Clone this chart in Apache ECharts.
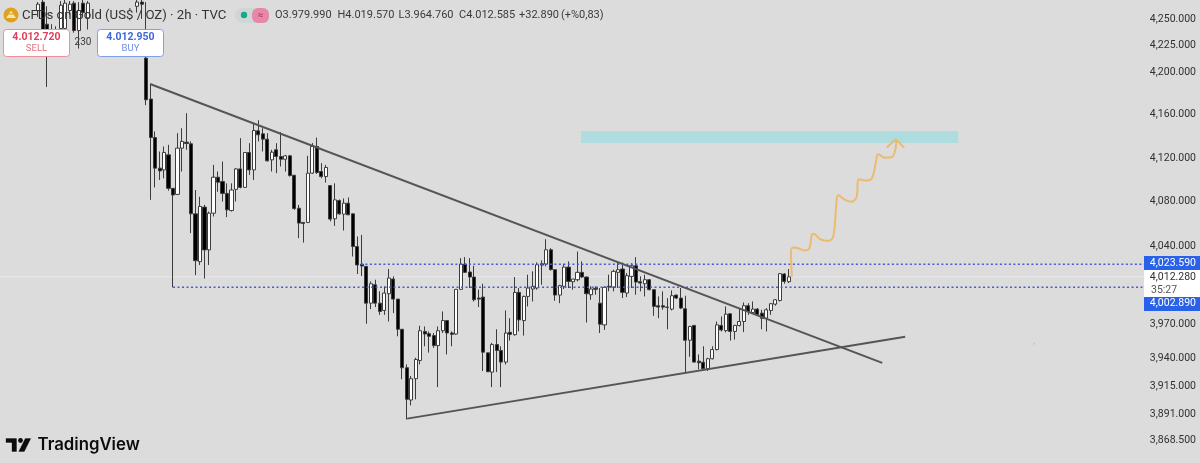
<!DOCTYPE html>
<html>
<head>
<meta charset="utf-8">
<style>html,body{margin:0;padding:0;background:#dcdcdc}#chart{width:1200px;height:463px}</style>
<script src="https://cdn.jsdelivr.net/npm/echarts@6/dist/echarts.min.js"></script>
</head>
<body>
<div id="chart"></div>
<script>
// XAU/USD 2h bars; null marks a slot with no bar on screen
const opens = [
4258,4266,4245,4240,4238,4241,4241,4258,4265,4239,4265,4251,null,null,null,null,null,null,null,null,null,null,4262,4266,4213,
4174.7,4139,4110.8,4109.2,4123,4092.3,4086.8,4129.2,4134.7,4133.2,4069.1,4025.9,4075.2,4036.5,4069.7,4102.5,4098.5,4087.7,4072.1,4091.4,
4110.1,4093.2,4125.2,4109.2,4145.2,4142.4,4137.5,4118.4,4127.7,4121.5,4119,4122.1,4104.3,4074.2,4061.3,4061.3,4106.2,4130.7,4107.7,4103.1,
4094.8,4064.6,4081.2,4068.8,4078.8,4069.1,4039.5,4023.59,4021.7,3988.8,4005.2,3988.8,3982.3,3997.2,4010.3,3992.4,3965.6,3931.7,3903.5,3922.1,
3938.1,3963.7,3961.7,3960,3951.2,3964.3,3973.3,3962.3,3961.4,4001.1,4023.7,4016.6,4012.1,3993.3,3994.2,3944.8,3927.9,3952.1,3946.9,3936.7,
3962.9,3960.8,3998.4,3973.3,3994.8,4001.4,4002.3,4024,4023.7,4036.6,4018.7,3996,4003.8,4021,4007.9,4009.7,4016.3,4012.1,3996.3,4002,
3988.8,3969.5,4003.8,4003.2,4016.3,4019.3,3997.8,4012.7,4022.2,4007.9,4006.1,4009.7,4000.8,3986.5,3986.5,3985,3983.5,3996,3993.3,3983.8,
3955.9,3969,3937.5,3936.5,3930.9,3939.6,3947.7,3969,3964.4,3979.3,3963.7,3969,3972.5,3986.5,3980.5,3983.5,3979.9,3975.4,3982.3,3987.9,
3991.2,4014.8,4007.9];
const closes = [
4264,4239,4238,4234,4240,4263,4265,4264,4239,4258,4256,4265,null,null,null,null,null,null,null,null,null,null,4266,4264,4174,
4139,4110.8,4108.3,4125.2,4092.3,4086.2,4129.2,4135.4,4133.5,4069.1,4026.8,4075.8,4036.5,4069.7,4102.5,4097.9,4087.7,4072.7,4090.8,4110.1,
4093.2,4125.2,4109.2,4145.5,4141.5,4137.5,4117.5,4125.5,4121.5,4119,4122.1,4104,4073.9,4060.7,4060.4,4106.2,4130.7,4106.8,4103.1,4111.4,
4064.3,4081.8,4069.1,4078.8,4068.2,4039.5,4022.9,4022,3988.8,4006.1,3988.8,3981.4,3997.8,4011.2,3992.4,3965.6,3931.7,3904.1,3922.1,3939,
3964.3,3961.4,3959.4,3951.2,3964.3,3973.3,3962.3,3961.1,4001.1,4023.7,4016.3,4012.1,3991.8,3992.4,3945.4,3928.2,3952.1,3946.9,3936.7,3962.3,
3961.1,3998.4,3973.9,3994.8,4002.3,4003.8,4023.1,4022.8,4036.6,4018.7,3996,4004.4,4021,4008.2,4010.3,4016.3,4012.1,3997.2,4001.4,4001.1,
3970.1,4002.9,4003.2,4017.2,4018.7,3998.4,4013.3,4022.2,4007.6,4006.7,4009.7,4000.8,3985.9,3985.3,3985.3,3985.3,3995.4,3993.3,3984.4,3955.9,
3968.1,3936.7,3936.1,3930.9,3939.6,3947.7,3969.5,3965,3979,3963.7,3969,3972.5,3986.5,3981.4,3983.5,3978.4,3975.4,3982.9,3988.3,3991.8,
4015.1,4008.2,4012.28];
const highs = [
4266,4268,4262,4245,4243,4267,4268,4267,4267,4266,4268,4267,null,null,null,null,null,null,null,null,null,null,4268,4268,4266,
4189,4144.6,4126.1,4130.7,4132.3,4092.3,4143,4147.6,4161.5,4135.4,4090.8,4084.6,4077.3,4071.2,4113.8,4107.7,4116.9,4096.9,4096.9,4110.8,
4138.4,4125.2,4133.8,4152,4155,4147.6,4143,4127.7,4133.8,4144,4123,4123,4104.6,4077.3,4061.3,4122.1,4133.8,4139,4115.4,4113.8,
4095.4,4096.9,4082.2,4083.1,4084,4069.1,4048.6,4050,4021.7,4008.2,4009.7,3999.3,4003.8,4019.3,4012.7,3992.4,3965.6,3934.6,3924.4,3940.5,
3968.7,3968.1,3963.7,3962.3,3968.1,3981.4,3973.9,3963.7,4001.4,4029.1,4030,4029.1,4022.2,4000.8,4006.1,3944.8,3953.6,3965.6,3950.6,3982.3,
3975.4,4012.1,4002.3,3995.4,4014.2,4017.2,4025.2,4027,4046.1,4038,4019.3,4005.2,4024,4026.1,4010.3,4035,4026.1,4012.7,4003.8,4003.8,
4002.3,4003.8,4014.2,4018.7,4026.1,4025.2,4015.7,4024.6,4030,4012.7,4014.2,4010.3,4000.8,3994.8,3999.3,3993.3,4000.2,3996.3,4002.3,3995.4,
3968.7,3969.5,3943.4,3950.6,3940.5,3950.6,3972.5,3976.9,3985.9,3979.9,3969.5,3984.4,3989.4,3988.8,3990.3,3984.4,3982.9,3984.4,3988.8,3992.4,
4015.7,4015.7,4019.3];
const lows = [
4252,4237,4186,4225,4226,4238,4232,4254,4237,4222,4252,4240,null,null,null,null,null,null,null,null,null,null,4256,4250,4169,
4081.8,4093.2,4100,4101.5,4090.2,4002.89,4086.2,4107.7,4127.7,4051.6,4013.8,4022.9,4010.8,4022.9,4066.7,4089.2,4080.3,4066.1,4071.2,4080.3,
4092.3,4092.9,4104.6,4100,4135.4,4126.1,4116.9,4107.7,4106.2,4112.3,4107.7,4103.1,4072.7,4047.1,4043.1,4060.7,4105.5,4105.5,4101.5,4097.6,
4062.2,4058.2,4068.2,4054,4068.2,4030.5,4014.8,4013,3970.5,3983.5,3985.3,3978.4,3978.4,3972.5,3979.9,3959.4,3921.6,3886.6,3898.8,3904.1,
3934.6,3950.6,3945,3949.2,3914.8,3962.3,3943.4,3950.6,3960.8,4000.8,4015.7,4002.3,3990.3,3985.3,3928.8,3927.9,3914.8,3927.9,3914.8,3934.6,
3955.6,3960,3963.7,3960,3985.9,3990.3,4000.8,4005.2,4021.7,4018.1,3990.9,3988.8,4001.4,4002.3,4000.8,4008.2,4011.2,3971.6,3991.8,3996.3,
3962.3,3965,3999.3,3999.3,4002.3,3993.3,3994.2,4002.3,3996.3,3999.3,3994.8,4000.2,3977.5,3975.4,3982.9,3965.6,3982.3,3992.4,3983.5,3927.9,
3941.3,3936.1,3930.3,3930.3,3928.8,3939,3946.9,3963.7,3962.9,3955.6,3956.5,3968.1,3963.1,3978.4,3979.3,3977.5,3965.6,3963.7,3978.4,3986.5,
3990.3,4006.1,4006.7];

const firstBarSlot = 8;
const barSlots = 267;
const priceTicks = [4250,4225,4200,4160,4120,4080,4040,3970,3940,3915,3891,3868.5];
const priceMin = 3849;
const priceMax = 4268;
const bidLevel = 4012.28;

// Levels and drawn objects, as [bar position, price]
const resistanceLevel = 4023.59;
const supportLevel = 4002.89;
const upperTrend = [[33.4,4188.7],[196.3,3936]];
const lowerTrend = [[90.6,3887.3],[201.4,3959]];
const targetZone = {from:129.3,to:213.2,top:4145,bottom:4134};
const projectionX = [176.2,176,176.4,177.6,179.1,180.1,180.6,181,182.5,184.3,185.4,186.2,186.5,188,189.5,190.6,191,192.5,194,194.9,195.4,196.9,198.4,199.2,199.4];
const projectionY = [4012.5,4033.5,4038.6,4038,4035.9,4038,4050,4051,4046.1,4044.6,4048.5,4083.3,4086,4081.8,4080.2,4084.7,4100.7,4099.4,4101.6,4116.8,4123.6,4120.4,4120.8,4127.5,4136.8];
const arrowHead = [[197.3,4129.7],[199.3,4137.4],[201.2,4129.7]];

const categories = [];
for (let i = 0; i < barSlots; i++) categories.push(String(i));
const bars = categories.map((_, i) => {
  const k = i - firstBarSlot;
  if (k < 0 || k >= opens.length || opens[k] === null) return ['-','-','-','-'];
  return [opens[k], closes[k], lows[k], highs[k]];
});

const uiFont = 'Roboto, sans-serif';
const chartEl = document.getElementById('chart');
const chart = echarts.init(chartEl, null, {renderer:'canvas'});

function overlayLine(data, color, width, extra) {
  return Object.assign({
    type:'line', xAxisIndex:1, yAxisIndex:0, data, symbol:'none', silent:true,
    animation:false, z:5, lineStyle:{color, width}
  }, extra || {});
}
function label(x, y, text, font, fill, align) {
  return {type:'text', z:100, x, y, style:{text, font, fill, align:align||'left', verticalAlign:'middle'}};
}
function box(x, y, w, h, fill, stroke, r) {
  return {type:'rect', z:99, shape:{x, y, width:w, height:h, r:r||0}, style:{fill, stroke:stroke||null, lineWidth:stroke?1:0}};
}

chart.setOption({
  animation:false,
  backgroundColor:'#dcdcdc',
  grid:{left:0,right:0,top:0,bottom:0,containLabel:false},
  xAxis:[
    {type:'category',data:categories,show:false,boundaryGap:true},
    {type:'value',min:0,max:barSlots,show:false}
  ],
  yAxis:{
    type:'log',logBase:10,min:priceMin,max:priceMax,position:'right',
    axisLine:{show:false},axisTick:{show:false},splitLine:{show:false},minorTick:{show:false},
    axisLabel:{
      inside:true,margin:4,align:'right',color:'#303030',fontFamily:uiFont,fontSize:10.5,
      customValues:priceTicks,showMinLabel:true,showMaxLabel:true,
      formatter:v => Number(v).toLocaleString('en-US',{minimumFractionDigits:3,maximumFractionDigits:3})
    }
  },
  series:[
    overlayLine([[0,bidLevel],[barSlots,bidLevel]],'#e9e9e9',1,{z:1}),
    overlayLine([[0,0],[0,0]],'transparent',0,{
      data:[],
      markArea:{silent:true,itemStyle:{color:'#aedcdf',opacity:1},
        data:[[{xAxis:targetZone.from,yAxis:targetZone.top},{xAxis:targetZone.to,yAxis:targetZone.bottom}]]}
    }),
    {type:'candlestick',data:bars,barWidth:3.6,z:3,silent:true,
      itemStyle:{color:'#ffffff',color0:'#000000',borderColor:'#3c3c3c',borderColor0:'#3c3c3c',borderColorDoji:'#3c3c3c',borderWidth:1}},
    overlayLine([[38.5,supportLevel],[254.6,supportLevel]],'#4a5bd0',1.5,{lineStyle:{color:'#4a5bd0',width:1.5,type:[2,2.5]}}),
    overlayLine([[80.3,resistanceLevel],[254.6,resistanceLevel]],'#4a5bd0',1.5,{lineStyle:{color:'#4a5bd0',width:1.5,type:[2,2.5]}}),
    overlayLine(upperTrend,'#555555',2),
    overlayLine(lowerTrend,'#555555',2),
    overlayLine(projectionX.map((x,i)=>[x,projectionY[i]]),'#ecbb6e',2,{smooth:0.35,z:6}),
    overlayLine(arrowHead,'#ecbb6e',2,{z:6}),
    {type:'scatter',xAxisIndex:1,yAxisIndex:0,data:[[230.1,3952.8]],symbolSize:2,itemStyle:{color:'#eeb0a0'},silent:true,z:4}
  ],
  graphic:[
    // symbol header
    {type:'circle',z:100,shape:{cx:11,cy:15,r:7.5},style:{fill:'#e0a020'}},
    {type:'polygon',z:101,shape:{points:[[6,18],[8.5,14.5],[13.5,14.5],[16,18]]},style:{fill:'#f5e3b0'}},
    {type:'polygon',z:101,shape:{points:[[9,13.5],[11,10.5],[13,13.5]]},style:{fill:'#f5e3b0'}},
    label(22,15.5,'CFDs on Gold (US$ / OZ) · 2h · TVC','13.2px '+uiFont,'#333333'),
    box(235,8,34,15,'#cdd8d5',null,7.5),
    {type:'circle',z:100,shape:{cx:244,cy:15,r:3.2},style:{fill:'#14a98a'}},
    box(252,8,17,15,'#e887a8',null,6),
    label(260.5,15,'≈','10px '+uiFont,'#a83060','center'),
    label(275,15.5,'O3.979.990','11px '+uiFont,'#3a3a3a'),
    label(337.5,15.5,'H4.019.570','11px '+uiFont,'#3a3a3a'),
    label(398.5,15.5,'L3.964.760','11px '+uiFont,'#3a3a3a'),
    label(459,15.5,'C4.012.585','11px '+uiFont,'#3a3a3a'),
    label(519,15.5,'+32.890','11px '+uiFont,'#3a3a3a'),
    label(561,15.5,'(+%0,83)','11px '+uiFont,'#3a3a3a'),
    // order buttons
    box(3.5,29.5,66,27,'#ffffff','#ef8f9c',3),
    label(36.5,37,'4.012.720','bold 10.5px '+uiFont,'#e2405a','center'),
    label(36.5,49,'SELL','9.5px '+uiFont,'#e8707f','center'),
    label(83,42,'230','10px '+uiFont,'#3a3a3a','center'),
    box(97.5,29.5,66,27,'#ffffff','#7f9fe8',3),
    label(130.5,37,'4.012.950','bold 10.5px '+uiFont,'#3f68d8','center'),
    label(130.5,49,'BUY','9.5px '+uiFont,'#6f8fe4','center'),
    // price scale tags
    box(1144,256,56,14,'#2962e8'),
    label(1196,263,'4,023.590','10.5px '+uiFont,'#ffffff','right'),
    box(1144,270,56,27,'#ffffff'),
    label(1196,277,'4,012.280','10.5px '+uiFont,'#303030','right'),
    label(1151,290,'35:27','10.5px '+uiFont,'#555555','left'),
    box(1144,297,56,14,'#2962e8'),
    label(1196,303,'4,002.890','10.5px '+uiFont,'#ffffff','right'),
    // wordmark
    {type:'polygon',z:100,shape:{points:[[5.5,438],[17,438],[17,452],[11.5,452],[11.5,443],[5.5,443]]},style:{fill:'#0c0c0c',stroke:'#f0f0f0',lineWidth:0.6}},
    {type:'circle',z:100,shape:{cx:20.5,cy:440.5,r:2.4},style:{fill:'#0c0c0c'}},
    {type:'polygon',z:100,shape:{points:[[25,438],[31.5,438],[24.5,452],[18,452]]},style:{fill:'#0c0c0c',stroke:'#f0f0f0',lineWidth:0.6}},
    label(37.5,445,'TradingView','600 16.8px Inter, sans-serif','#0c0c0c')
  ]
});
</script>
</body>
</html>
